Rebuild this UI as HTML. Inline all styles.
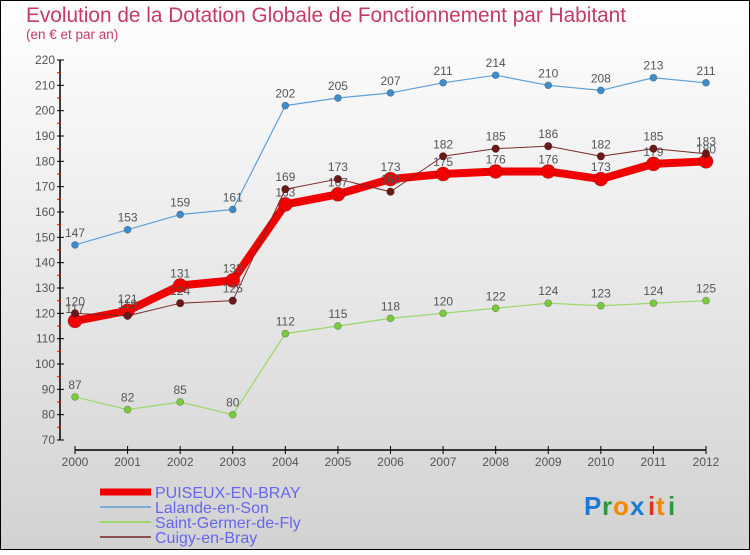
<!DOCTYPE html>
<html><head><meta charset="utf-8"><style>
body{margin:0;width:750px;height:550px;overflow:hidden;font-family:"Liberation Sans",sans-serif}
svg text{font-family:"Liberation Sans",sans-serif}
</style></head><body>
<svg id="chart" width="750" height="550" xmlns="http://www.w3.org/2000/svg">
<defs><linearGradient id="bg" x1="0" y1="0" x2="0" y2="1"><stop offset="0" stop-color="#ffffff"/><stop offset="1" stop-color="#d2d2d2"/></linearGradient></defs>
<rect x="0.5" y="0.5" width="749" height="549" fill="url(#bg)" stroke="#000"/>
<text x="26" y="22" font-size="20.8" fill="#c63a62">Evolution de la Dotation Globale de Fonctionnement par Habitant</text>
<text x="26" y="39" font-size="13.5" fill="#c63a62">(en € et par an)</text>
<g id="axes"></g><g id="series"></g><g id="legend"></g>
<g font-size="26" font-weight="bold">
<text x="584" y="515" fill="#1a7ad4">P</text><text x="602" y="515" fill="#2a9a3a">r</text><text x="613" y="515" fill="#f08a00">o</text><text x="630" y="515" fill="#1a7ad4">x</text><text x="648" y="515" fill="#e03020">i</text><text x="656" y="515" fill="#f08a00">t</text><text x="668" y="515" fill="#2a9a3a">i</text>
</g>
</svg>
<script>
const years=[2000,2001,2002,2003,2004,2005,2006,2007,2008,2009,2010,2011,2012];
const puiseux=[117,121,131,133,163,167,173,175,176,176,173,179,180];
const lalande=[147,153,159,161,202,205,207,211,214,210,208,213,211];
const germer=[87,82,85,80,112,115,118,120,122,124,123,124,125];
const cuigy=[120,119,124,125,169,173,168,182,185,186,182,185,183];
const yTicks=[70,80,90,100,110,120,130,140,150,160,170,180,190,200,210,220];
const seriesNames=["PUISEUX-EN-BRAY","Lalande-en-Son","Saint-Germer-de-Fly","Cuigy-en-Bray"];
const NS="http://www.w3.org/2000/svg";
const x=i=>75+i*(706-75)/12;
const y=v=>60+(220-v)*(380/150);
function mk(tag,attrs,parent){const e=document.createElementNS(NS,tag);for(const k in attrs)e.setAttribute(k,attrs[k]);parent.appendChild(e);return e;}
const ax=document.getElementById('axes');
let a=mk('line',{x1:60,y1:60,x2:60,y2:440,stroke:'#000','stroke-width':1.5},ax);


yTicks.forEach(v=>{
  mk('line',{x1:57,y1:y(v),x2:64,y2:y(v),stroke:'#000'},ax);
  if(v<220) mk('line',{x1:57,y1:y(v+5),x2:61,y2:y(v+5),stroke:'#f00'},ax);
  const t=mk('text',{x:55,y:y(v)+4,'text-anchor':'end','font-size':12,fill:'#555'},ax);
  t.textContent=v;
  
  
});
a=mk('line',{x1:75,y1:450,x2:706,y2:450,stroke:'#000','stroke-width':1.5},ax);


years.forEach((yr,i)=>{
  mk('line',{x1:x(i),y1:446,x2:x(i),y2:454,stroke:'#000'},ax);
  const t=mk('text',{x:x(i),y:466,'text-anchor':'middle','font-size':12,fill:'#555'},ax);
  t.textContent=yr;
  
  
});
const sg=document.getElementById('series');
function draw(data,name,color,lw,r,dot){
  const g=mk('g',{},sg);
  
  
  mk('polyline',{points:data.map((v,i)=>x(i)+','+y(v)).join(' '),fill:'none',stroke:color,'stroke-width':lw,'stroke-linejoin':'round'},g);
  data.forEach((v,i)=>{
    const c=mk('circle',{cx:x(i),cy:y(v),r:r,fill:dot,stroke:'rgba(0,0,0,0.3)','stroke-width':0.7},g);
    
    
    const t=mk('text',{x:x(i),y:y(v)-8,'text-anchor':'middle','font-size':12,fill:'#555'},g);
    t.textContent=v;
    
    
  });
}
draw(lalande,'series-lalande','#5fa0d8',1.2,3.5,'#3d8ccc');
draw(germer,'series-saint-germer','#9ad86a',1.2,3.5,'#78cc3c');
draw(puiseux,'series-puiseux','#f00000',8,7,'#f00000');
draw(cuigy,'series-cuigy','#7a2a2a',1,3.8,'#6a1818');
const lg=document.getElementById('legend');
const lcols=['#f00000','#7aaed8','#9ad86a','#8a5050'];
const lws=[7,2,2,2];
seriesNames.forEach((n,i)=>{
  const yy=492+i*15;
  const g=mk('g',{},lg);
  
  
  mk('line',{x1:100,y1:yy,x2:151,y2:yy,stroke:lcols[i],'stroke-width':lws[i]},g);
  const t=mk('text',{x:155,y:yy+6,'font-size':16,fill:'#6666ee'},g);
  t.textContent=n;
});
</script>
</body></html>
